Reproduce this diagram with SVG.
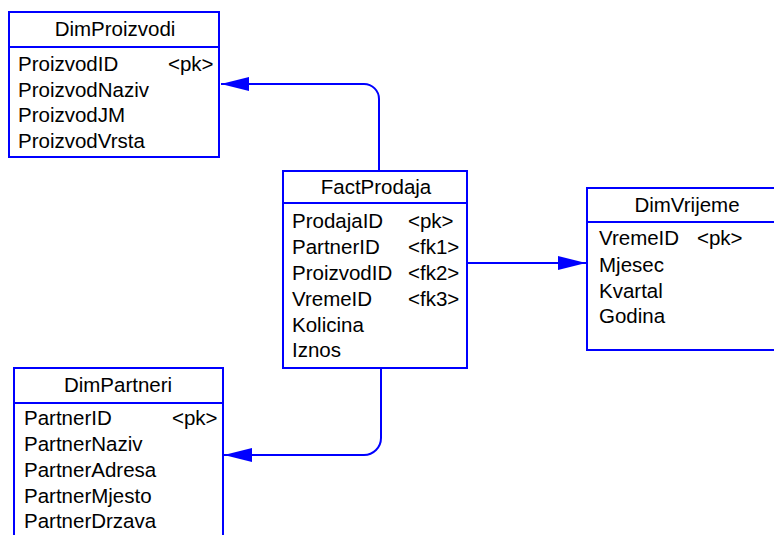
<svg xmlns="http://www.w3.org/2000/svg" width="774" height="535" viewBox="0 0 774 535">
  <style>
    .box { fill: #ffffff; stroke: #0000ff; stroke-width: 2; }
    .sep { stroke: #0000ff; stroke-width: 2; }
    .t { font-family: "Liberation Sans", Arial, sans-serif; font-size: 20.5px; fill: #000000; }
    .title { text-anchor: middle; }
    .link { fill: none; stroke: #0000ff; stroke-width: 2; }
  </style>
  <defs>
    <marker id="arrow" markerUnits="userSpaceOnUse" markerWidth="30" markerHeight="16" refX="28" refY="7" orient="auto">
      <path d="M0,0 L28,7 L0,14 Z" fill="#0000ff"/>
    </marker>
  </defs>
  <rect width="774" height="535" fill="#ffffff"/>

  <!-- relationships -->
  <g id="connectors">
    <path class="link" d="M379,170 V99 A15,15 0 0 0 364,84 H221" marker-end="url(#arrow)"/>
    <path class="link" d="M467,263 H586" marker-end="url(#arrow)"/>
    <path class="link" d="M381,369 V438 A17,17 0 0 1 364,455 H224" marker-end="url(#arrow)"/>
  </g>

  <!-- product dimension -->
  <g id="DimProizvodi">
    <rect class="box" x="9" y="12" width="210" height="145"/>
    <line class="sep" x1="9" y1="47" x2="219" y2="47"/>
    <text class="t title" x="115" y="36">DimProizvodi</text>
    <text class="t" x="18" y="71">ProizvodID</text>
    <text class="t" x="168" y="71">&lt;pk&gt;</text>
    <text class="t" x="18" y="97">ProizvodNaziv</text>
    <text class="t" x="18" y="122">ProizvodJM</text>
    <text class="t" x="18" y="148">ProizvodVrsta</text>
  </g>

  <!-- sales fact table -->
  <g id="FactProdaja">
    <rect class="box" x="283" y="171" width="184" height="197"/>
    <line class="sep" x1="283" y1="203" x2="467" y2="203"/>
    <text class="t title" x="376" y="194">FactProdaja</text>
    <text class="t" x="292" y="228">ProdajaID</text>
    <text class="t" x="408" y="228">&lt;pk&gt;</text>
    <text class="t" x="292" y="254">PartnerID</text>
    <text class="t" x="408" y="254">&lt;fk1&gt;</text>
    <text class="t" x="292" y="280">ProizvodID</text>
    <text class="t" x="408" y="280">&lt;fk2&gt;</text>
    <text class="t" x="292" y="306">VremeID</text>
    <text class="t" x="408" y="306">&lt;fk3&gt;</text>
    <text class="t" x="292" y="332">Kolicina</text>
    <text class="t" x="292" y="357">Iznos</text>
  </g>

  <!-- time dimension -->
  <g id="DimVrijeme">
    <rect class="box" x="587" y="188" width="200" height="162"/>
    <line class="sep" x1="587" y1="222" x2="787" y2="222"/>
    <text class="t title" x="687" y="212">DimVrijeme</text>
    <text class="t" x="599" y="245">VremeID</text>
    <text class="t" x="697" y="245">&lt;pk&gt;</text>
    <text class="t" x="599" y="272">Mjesec</text>
    <text class="t" x="599" y="298">Kvartal</text>
    <text class="t" x="599" y="323">Godina</text>
  </g>

  <!-- partner dimension -->
  <g id="DimPartneri">
    <rect class="box" x="14" y="368" width="209" height="180"/>
    <line class="sep" x1="14" y1="403" x2="223" y2="403"/>
    <text class="t title" x="118" y="392">DimPartneri</text>
    <text class="t" x="24" y="425">PartnerID</text>
    <text class="t" x="172" y="425">&lt;pk&gt;</text>
    <text class="t" x="24" y="451">PartnerNaziv</text>
    <text class="t" x="24" y="477">PartnerAdresa</text>
    <text class="t" x="24" y="503">PartnerMjesto</text>
    <text class="t" x="24" y="528">PartnerDrzava</text>
  </g>
</svg>
